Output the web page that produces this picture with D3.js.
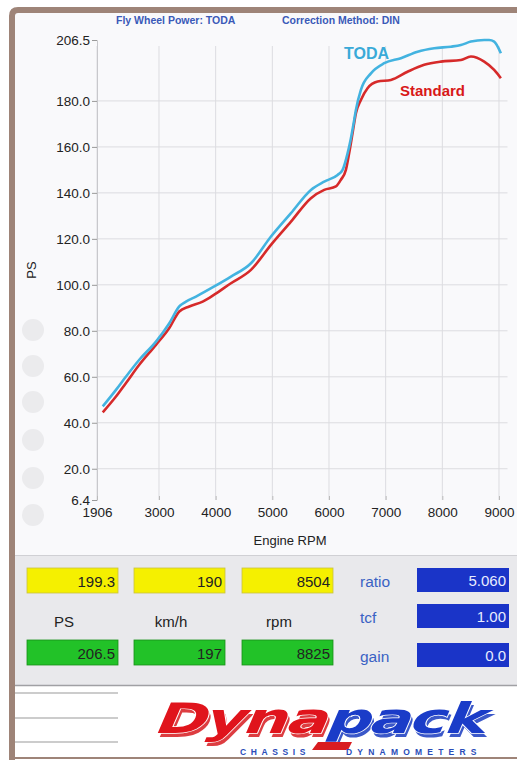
<!DOCTYPE html>
<html><head><meta charset="utf-8">
<script src="https://cdn.jsdelivr.net/npm/d3@7"></script>
<style>html,body{margin:0;padding:0;background:#fff;}svg{display:block;}</style>
</head><body>
<script>
// ---- data ----
const todaRpm = [2007,2241,2418,2652,2947,3182,3358,3476,3653,3975,4270,4623,4976,5329,5681,5916,6152,6240,6329,6387,6445,6475,6563,6740,6975,7269,7564,7857,8151,8327,8504,8739,8825,8915,9033];
const todaPS  = [47.1,54.3,60.1,67.4,75.3,83.3,90.6,92.7,94.9,99.3,103.6,109.4,121.0,131.2,141.3,144.9,147.8,150.0,157.3,163.8,171.7,176.1,184.8,192.0,196.4,198.6,201.4,202.9,203.6,204.3,205.8,206.5,206.5,205.8,200.7];
const stdRpm  = [2007,2241,2418,2652,2947,3182,3358,3535,3771,3975,4270,4623,4976,5329,5681,5916,6122,6210,6298,6356,6416,6475,6563,6680,6858,7092,7386,7680,7975,8327,8504,8739,8915,9033];
const stdPS   = [44.5,51.4,57.3,65.2,73.9,81.2,88.4,90.6,92.7,95.7,100.7,106.5,117.4,127.5,137.7,141.3,142.8,145.7,150.0,157.3,166.0,174.7,180.4,185.5,188.4,189.1,192.7,195.7,197.1,197.8,199.3,197.1,193.5,189.9];
const xTicks = [1906,3000,4000,5000,6000,7000,8000,9000];
const yTicks = [6.4,20,40,60,80,100,120,140,160,180,206.5];
const yTickLabels = ["6.4","20.0","40.0","60.0","80.0","100.0","120.0","140.0","160.0","180.0","206.5"];
const seriesNames = ["TODA","Standard"];
const topRow = ["199.3","190","8504"];
const unitRow = ["PS","km/h","rpm"];
const bottomRow = ["206.5","197","8825"];
const paramNames = ["ratio","tcf","gain"];
const paramValues = ["5.060","1.00","0.0"];

const W = 517, H = 760;
const svg = d3.select("body").append("svg").attr("width", W).attr("height", H);
const font = "Liberation Sans, Arial, sans-serif";

// background
svg.append("rect").attr("x",0).attr("y",0).attr("width",W).attr("height",H).attr("fill","#fff");
svg.append("rect").attr("x",15).attr("y",13).attr("width",W-15).attr("height",542).attr("fill","#f9f9fb");

// ghost buttons
[330,366,402,440,478,515].forEach(cy=>{
  svg.append("circle").attr("cx",33).attr("cy",cy).attr("r",11).attr("fill","#ebebed");
});

// scales
const x = d3.scaleLinear().domain([1906, 9150]).range([97, 507.5]);
const y = d3.scaleLinear().domain([6.4, 206.5]).range([500, 40]);

const g = svg.append("g");
// grid
g.selectAll("line.vg").data(xTicks).enter().append("line")
  .attr("x1",d=>x(d)).attr("x2",d=>x(d)).attr("y1",y(206.5)+6).attr("y2",y(6.4))
  .attr("stroke","#dcdce0").attr("stroke-width",1);
g.selectAll("line.hg").data(yTicks.filter(v=>v>6.4 && v<206.5)).enter().append("line")
  .attr("x1",x(1906)).attr("x2",507.5).attr("y1",d=>y(d)).attr("y2",d=>y(d))
  .attr("stroke","#dcdce0").attr("stroke-width",1);

// axes
const yAxis = d3.axisLeft(y).tickValues(yTicks).tickFormat((d,i)=>yTickLabels[i]).tickSize(5).tickPadding(2);
const ya = svg.append("g").attr("transform",`translate(${x(1906)},0)`).call(yAxis);
ya.select(".domain").attr("stroke","#c8c8cc");
ya.selectAll(".tick line").attr("stroke","#999");
ya.selectAll("text").attr("font-family",font).attr("font-size",13.5).attr("fill","#222");

const xAxis = d3.axisBottom(x).tickValues(xTicks).tickFormat(d3.format("d")).tickSize(4).tickPadding(3);
const xa = svg.append("g").attr("transform",`translate(0,${y(6.4)})`).call(xAxis);
xa.select(".domain").remove();
xa.selectAll(".tick line").attr("stroke","#bbb").attr("transform","translate(0,-4)");
xa.selectAll("text").attr("font-family",font).attr("font-size",13.5).attr("fill","#222");

// axis titles
svg.append("text").attr("x",290).attr("y",545).attr("text-anchor","middle")
  .attr("font-family",font).attr("font-size",13).attr("fill","#222").text("Engine RPM");
svg.append("text").attr("transform","translate(36,270) rotate(-90)").attr("text-anchor","middle")
  .attr("font-family",font).attr("font-size",13).attr("fill","#222").text("PS");

// header
svg.append("text").attr("x",116).attr("y",24).attr("font-family",font).attr("font-size",10.5)
  .attr("font-weight","bold").attr("fill","#3a5ab8").text("Fly Wheel Power: TODA");
svg.append("text").attr("x",282).attr("y",24).attr("font-family",font).attr("font-size",10.5)
  .attr("font-weight","bold").attr("fill","#3a5ab8").text("Correction Method: DIN");

// lines
const line = d3.line().x(d=>x(d[0])).y(d=>y(d[1])).curve(d3.curveMonotoneX);
const todaData = todaRpm.map((r,i)=>[r,todaPS[i]]);
const stdData = stdRpm.map((r,i)=>[r,stdPS[i]]);
svg.append("path").datum(stdData).attr("d",line).attr("fill","none").attr("stroke","#d62a2a").attr("stroke-width",2.6);
svg.append("path").datum(todaData).attr("d",line).attr("fill","none").attr("stroke","#43b3e0").attr("stroke-width",2.6);

// labels
svg.append("text").attr("x",344).attr("y",59).attr("font-family",font).attr("font-size",16)
  .attr("font-weight","bold").attr("fill","#3aaad8").text(seriesNames[0]);
svg.append("text").attr("x",400).attr("y",96).attr("font-family",font).attr("font-size",15)
  .attr("font-weight","bold").attr("fill","#d81818").text(seriesNames[1]);

// bottom panel
svg.append("rect").attr("x",15).attr("y",555).attr("width",W-15).attr("height",131).attr("fill","#e9e9ec");
svg.append("line").attr("x1",15).attr("x2",W).attr("y1",555.5).attr("y2",555.5).attr("stroke","#d0d0d4");
svg.append("line").attr("x1",15).attr("x2",W).attr("y1",685.5).attr("y2",685.5).attr("stroke","#a0a0a4").attr("stroke-width",1.5);

const boxX = [27,134,242];
const boxW = 91;
boxX.forEach((bx,i)=>{
  svg.append("rect").attr("x",bx).attr("y",568).attr("width",boxW).attr("height",25).attr("fill","#f5f000").attr("stroke","#c8c040").attr("stroke-width",0.8);
  svg.append("text").attr("x",bx+boxW-3).attr("y",587).attr("text-anchor","end").attr("font-family",font)
    .attr("font-size",15).attr("fill","#222").text(topRow[i]);
  svg.append("text").attr("x",bx+37).attr("y",627).attr("text-anchor","middle").attr("font-family",font)
    .attr("font-size",15).attr("fill","#222").text(unitRow[i]);
  svg.append("rect").attr("x",bx).attr("y",640).attr("width",boxW).attr("height",25).attr("fill","#22c228").attr("stroke","#189018").attr("stroke-width",0.8);
  svg.append("text").attr("x",bx+boxW-3).attr("y",659).attr("text-anchor","end").attr("font-family",font)
    .attr("font-size",15).attr("fill","#222").text(bottomRow[i]);
});
const pY = [568,604,643];
paramNames.forEach((p,i)=>{
  svg.append("text").attr("x",360).attr("y",pY[i]+19).attr("font-family",font).attr("font-size",15.5)
    .attr("fill","#3a62c4").text(p);
  svg.append("rect").attr("x",417).attr("y",pY[i]).attr("width",92).attr("height",24).attr("fill","#1a34c8");
  svg.append("text").attr("x",506).attr("y",pY[i]+18).attr("text-anchor","end").attr("font-family",font)
    .attr("font-size",15).attr("fill","#e8ecff").text(paramValues[i]);
});

// footer lines
[693,718,742].forEach(ly=>{
  svg.append("line").attr("x1",15).attr("x2",118).attr("y1",ly).attr("y2",ly).attr("stroke","#999").attr("stroke-width",1.2);
});

// logo
const logoFont = "DejaVu Sans, sans-serif";
function logoText(dx, dy, opts){
  const grp = svg.append("g").attr("transform",`translate(${152+dx},${733+dy}) scale(1.5,1) skewX(-16)`);
  const t = grp.append("text").attr("font-family",logoFont).attr("font-size",42).attr("font-weight","bold").attr("letter-spacing",-1.5);
  const a = t.append("tspan").text("Dyna");
  const b = t.append("tspan").text("pack");
  opts(t,a,b);
}
// shadow
logoText(2,4,(t,a,b)=>{ a.attr("fill","#d81c20").attr("opacity",0.85); b.attr("fill","#1a3cc0").attr("opacity",0.85); });
// main with white outline
logoText(0,0,(t,a,b)=>{
  t.attr("stroke","#fff").attr("stroke-width",1.4).attr("paint-order","stroke");
  a.attr("fill","#e0141c"); b.attr("fill","#1a3cc8");
});
svg.append("path").attr("d","M318,742 L352,742 L348,750 L312,750 Z").attr("fill","#d81c20");
svg.append("text").attr("x",240).attr("y",755).attr("font-family",font).attr("font-size",8.5).attr("font-weight","bold")
  .attr("letter-spacing",4.6).attr("fill","#2a4cb8").text("CHASSIS");
svg.append("text").attr("x",346).attr("y",755).attr("font-family",font).attr("font-size",8.5).attr("font-weight","bold")
  .attr("letter-spacing",5.2).attr("fill","#2a4cb8").text("DYNAMOMETERS");

// brown frame
const brown = "#9e8478";
svg.append("path").attr("d","M12,760 L12,16 Q12,10 18,10 L517,10").attr("fill","none").attr("stroke",brown).attr("stroke-width",6);
svg.append("line").attr("x1",15).attr("x2",W).attr("y1",758).attr("y2",758).attr("stroke",brown).attr("stroke-width",2);
</script>
</body></html>
